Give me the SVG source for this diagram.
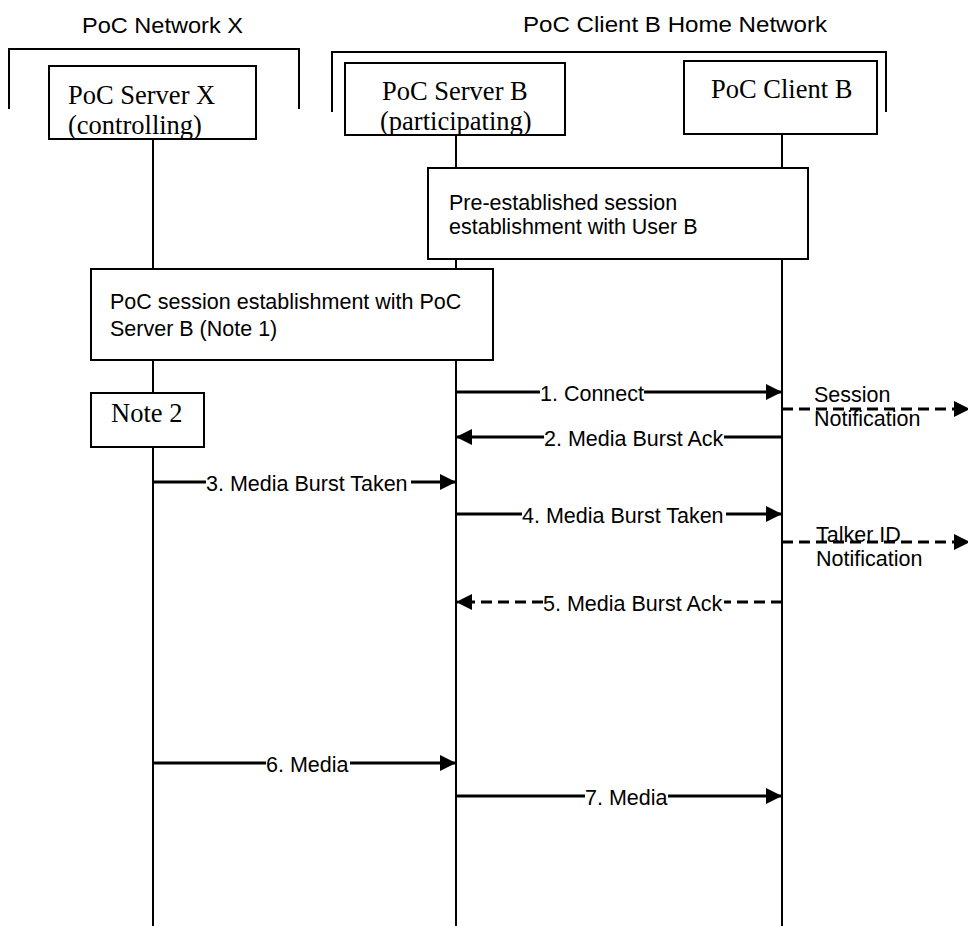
<svg xmlns="http://www.w3.org/2000/svg" width="968" height="926" viewBox="0 0 968 926">
<style>
.bg{fill:#fff}
.box{fill:#fff;stroke:#000;stroke-width:2}
.brk{fill:none;stroke:#000;stroke-width:2}
.life{stroke:#000;stroke-width:2}
.msg{stroke:#000;stroke-width:3;fill:none}
.dash{stroke:#000;stroke-width:3;fill:none;stroke-dasharray:11 6}
.ar{font-family:"Liberation Sans",Arial,sans-serif;font-size:21.5px;fill:#000}
.hd{font-family:"Liberation Sans",Arial,sans-serif;font-size:22px;fill:#000}
.tm{font-family:"Liberation Serif","Times New Roman",serif;font-size:26.5px;fill:#000}
</style>
<defs>
<marker id="ah" markerUnits="userSpaceOnUse" markerWidth="18" markerHeight="18" refX="16" refY="8" orient="auto">
<path d="M0,0 L16,8 L0,16 z" fill="#000"/>
</marker>
</defs>
<rect class="bg" x="0" y="0" width="968" height="926"/>

<g id="headers">
<text class="hd" x="82" y="33" textLength="161" lengthAdjust="spacingAndGlyphs">PoC Network X</text>
<text class="hd" x="523" y="32" textLength="304" lengthAdjust="spacingAndGlyphs">PoC Client B Home Network</text>
<path class="brk" d="M9,109 V49 H299 V109"/>
<path class="brk" d="M332,112 V52 H886 V112"/>
</g>

<g id="lifelines">
<line class="life" x1="153" y1="139" x2="153" y2="926"/>
<line class="life" x1="456" y1="135" x2="456" y2="926"/>
<line class="life" x1="782" y1="134" x2="782" y2="926"/>
</g>

<g id="server-x">
<rect class="box" x="49" y="66" width="207" height="73"/>
<text class="tm" x="68" y="104">PoC Server X</text>
<text class="tm" x="68" y="134">(controlling)</text>
</g>

<g id="server-b">
<rect class="box" x="345" y="63" width="220" height="72"/>
<text class="tm" x="382" y="100">PoC Server B</text>
<text class="tm" x="380" y="130">(participating)</text>
</g>

<g id="client-b">
<rect class="box" x="684" y="61" width="193" height="73"/>
<text class="tm" x="711" y="98">PoC Client B</text>
</g>

<g id="pre-established">
<rect class="box" x="428" y="168" width="380" height="91"/>
<text class="ar" x="449" y="210">Pre-established session</text>
<text class="ar" x="449" y="234">establishment with User B</text>
</g>

<g id="poc-session">
<rect class="box" x="91" y="269" width="402" height="91"/>
<text class="ar" x="110" y="309">PoC session establishment with PoC</text>
<text class="ar" x="110" y="336">Server B (Note 1)</text>
</g>

<g id="note-2">
<rect class="box" x="91" y="393" width="113" height="54"/>
<text class="tm" x="111" y="422">Note 2</text>
</g>

<g id="connectors">
<!-- 1. Connect -->
<line class="msg" x1="456" y1="392" x2="540" y2="392"/>
<line class="msg" x1="644" y1="392" x2="782" y2="392" marker-end="url(#ah)"/>
<text class="ar" x="540" y="401">1. Connect</text>
<!-- Session Notification -->
<line class="dash" x1="782" y1="409" x2="970" y2="409" marker-end="url(#ah)"/>
<text class="ar" x="814" y="402">Session</text>
<text class="ar" x="814" y="426">Notification</text>
<!-- 2. Media Burst Ack -->
<line class="msg" x1="782" y1="437" x2="724" y2="437"/>
<line class="msg" x1="544" y1="437" x2="456" y2="437" marker-end="url(#ah)"/>
<text class="ar" x="544" y="446">2. Media Burst Ack</text>
<!-- 3. Media Burst Taken -->
<line class="msg" x1="153" y1="482" x2="206" y2="482"/>
<line class="msg" x1="411" y1="482" x2="456" y2="482" marker-end="url(#ah)"/>
<text class="ar" x="206" y="491">3. Media Burst Taken</text>
<!-- 4. Media Burst Taken -->
<line class="msg" x1="456" y1="514" x2="522" y2="514"/>
<line class="msg" x1="726" y1="514" x2="782" y2="514" marker-end="url(#ah)"/>
<text class="ar" x="522" y="523">4. Media Burst Taken</text>
<!-- Talker ID Notification -->
<line class="dash" x1="782" y1="542" x2="970" y2="542" marker-end="url(#ah)"/>
<text class="ar" x="816" y="542">Talker ID</text>
<text class="ar" x="816" y="566">Notification</text>
<!-- 5. Media Burst Ack -->
<line class="dash" x1="782" y1="602" x2="724" y2="602"/>
<line class="dash" x1="543" y1="602" x2="456" y2="602" marker-end="url(#ah)"/>
<text class="ar" x="543" y="611">5. Media Burst Ack</text>
<!-- 6. Media -->
<line class="msg" x1="153" y1="763" x2="266" y2="763"/>
<line class="msg" x1="350" y1="763" x2="456" y2="763" marker-end="url(#ah)"/>
<text class="ar" x="266" y="772">6. Media</text>
<!-- 7. Media -->
<line class="msg" x1="456" y1="796" x2="585" y2="796"/>
<line class="msg" x1="668" y1="796" x2="782" y2="796" marker-end="url(#ah)"/>
<text class="ar" x="585" y="805">7. Media</text>
</g>
</svg>
